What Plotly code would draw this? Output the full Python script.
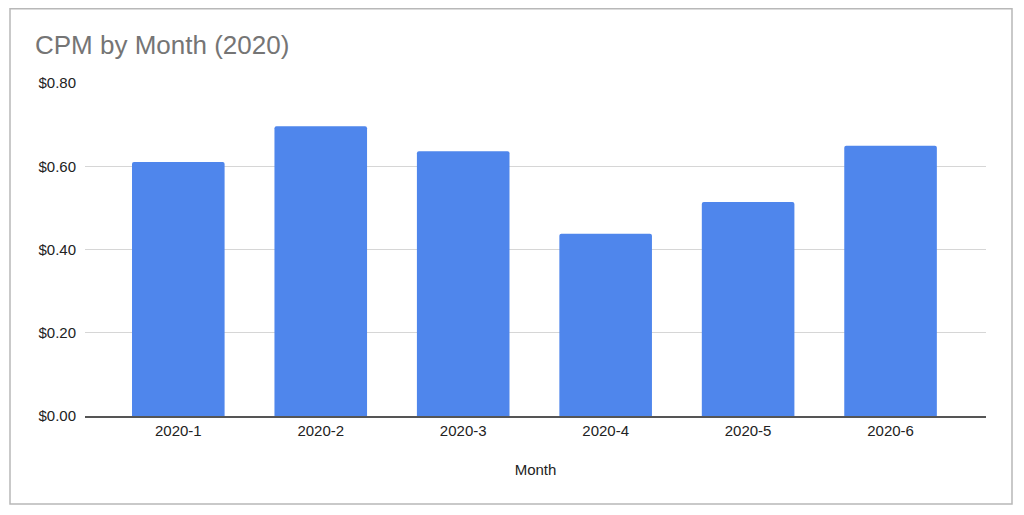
import plotly.graph_objects as go

months = ["2020-1", "2020-2", "2020-3", "2020-4", "2020-5", "2020-6"]
cpm = [0.61, 0.696, 0.636, 0.438, 0.514, 0.649]
y_ticks = [0.0, 0.2, 0.4, 0.6, 0.8]
y_tick_text = ["$0.00", "$0.20", "$0.40", "$0.60", "$0.80"]

# page body has an 8px margin; figure coordinates are shifted accordingly
OX, OY = 8, 8
W, H = 1016, 507
L, R, T, B = 85 - OX, 38, 83 - OY, 99
pw = W - L - R
ph = H - T - B

fig = go.Figure(go.Bar(
    x=months, y=cpm, marker=dict(color="#4f86ec", line=dict(width=0)),
    width=0.65,
))

fig.update_layout(
    width=W, height=H,
    margin=dict(l=L, r=R, t=T, b=B),
    paper_bgcolor="white", plot_bgcolor="white",
    font=dict(family="Liberation Sans, Arial, sans-serif", size=15, color="#222222"),
    barcornerradius=2,
    title=dict(text="CPM by Month (2020)", x=(35 - OX) / W, xref="container", xanchor="left",
               y=1 - (45 - OY) / H, yref="container", yanchor="middle",
               font=dict(size=26, color="#757575")),
    showlegend=False,
    xaxis=dict(type="category", range=[-0.655, 5.67], showgrid=False, ticks="", showline=True,
               linecolor="#555555", linewidth=1.5,
               title=dict(text="Month", standoff=27, font=dict(size=15, color="#222222"))),
    yaxis=dict(range=[0, 0.8], tickvals=y_ticks, ticktext=y_tick_text,
               showgrid=True, gridcolor="#d6d6d6", gridwidth=1, zeroline=False,
               ticks="", ticklabelstandoff=8, showline=False),
)

# outer chart border
fig.add_shape(type="rect", xref="paper", yref="paper",
              x0=(10 - OX - L) / pw, x1=(1012 - OX - L) / pw,
              y0=(H - B - (504 - OY)) / ph, y1=(H - B - 0.8) / ph,
              line=dict(color="#b8b8b8", width=1.5), fillcolor="rgba(0,0,0,0)", layer="below")

fig.write_html("out.html")
